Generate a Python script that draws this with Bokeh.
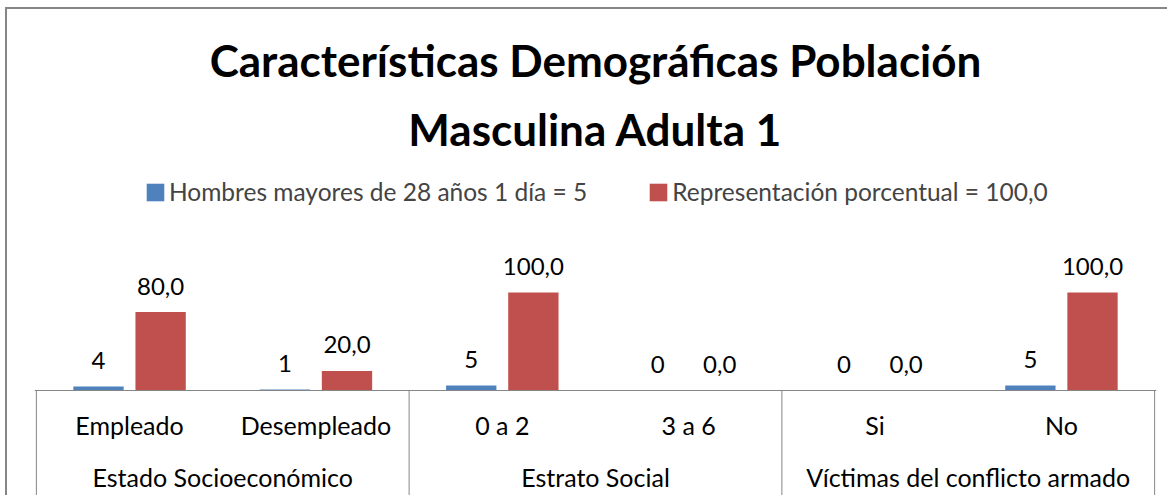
from bokeh.plotting import figure
from bokeh.models import (FactorRange, ColumnDataSource, Legend, LegendItem, Title,
                          Range1d)
from bokeh.transform import dodge
from bokeh.embed import file_html
from bokeh.resources import INLINE
from bokeh.core.properties import value

# ---------------- data ----------------
groups = ["Estado Socioeconómico", "Estado Socioeconómico",
          "Estrato Social", "Estrato Social",
          "Víctimas del conflicto armado", "Víctimas del conflicto armado"]
categories = ["Empleado", "Desempleado", "0 a 2", "3 a 6", "Si", "No"]
hombres = [4, 1, 5, 0, 0, 5]
porcentaje = [80.0, 20.0, 100.0, 0.0, 0.0, 100.0]
series_names = ["Hombres mayores de 28 años 1 día = 5",
                "Representación porcentual = 100,0"]
title_lines = ["Características Demográficas Población", "Masculina Adulta 1"]
colors = ["#4F81BD", "#C0504D"]

FONT = "Lato"
GRAY = "#868686"

factors = list(zip(groups, categories))
src = ColumnDataSource(dict(
    cat=factors,
    hombres=hombres,
    porcentaje=porcentaje,
    lab_h=[str(v) for v in hombres],
    lab_p=[f"{v:.1f}".replace(".", ",") for v in porcentaje],
))

xr = FactorRange(*factors, factor_padding=0, group_padding=0,
                 range_padding=0.01, range_padding_units="absolute")

W, H = 1162, 488
TOP = 150          # frame top (canvas px)
BASE = 381         # baseline (canvas px)
PX_PER_UNIT = 0.98
y_bottom = -(H - BASE) / PX_PER_UNIT
y_top = (BASE - TOP) / PX_PER_UNIT

p = figure(width=W, height=H, x_range=xr, y_range=Range1d(y_bottom, y_top),
           output_backend="svg", toolbar_location=None, title=None,
           min_border_left=27, min_border_right=13, min_border_top=TOP,
           min_border_bottom=0)
p.styles = {"border-left": f"2px solid {GRAY}", "border-top": f"2px solid {GRAY}",
            "margin-left": "5px", "margin-top": "7px"}
p.outline_line_color = None
p.grid.visible = False
p.yaxis.visible = False
p.background_fill_color = "white"
p.border_fill_color = "white"

off = 1 / 6
bw = 0.27
r1 = p.vbar(x=dodge("cat", -off, range=p.x_range), top="hombres", width=bw,
            source=src, fill_color=colors[0], line_color=None)
r2 = p.vbar(x=dodge("cat", off, range=p.x_range), top="porcentaje", width=bw,
            source=src, fill_color=colors[1], line_color=None)

p.text(x=dodge("cat", -off, range=p.x_range), y="hombres", text="lab_h", source=src,
       y_offset=-26, text_align="center", text_baseline="alphabetic",
       text_font=value(FONT), text_font_size="24px", text_color="black")
p.text(x=dodge("cat", off, range=p.x_range), y="porcentaje", text="lab_p", source=src,
       y_offset=-26, text_align="center", text_baseline="alphabetic",
       text_font=value(FONT), text_font_size="24px", text_color="black")

bounds = [0] + [i for i in range(1, len(groups)) if groups[i] != groups[i - 1]] + [len(groups)]
p.segment(x0=bounds, x1=bounds, y0=[0] * len(bounds), y1=[y_bottom] * len(bounds),
          line_color=GRAY, line_width=1)

ax = p.xaxis[0]
ax.fixed_location = 0
ax.axis_line_color = GRAY
ax.major_tick_line_color = None
ax.minor_tick_line_color = None
ax.major_tick_out = 0
ax.major_tick_in = 0
ax.separator_line_color = None
ax.major_label_text_font = FONT
ax.major_label_text_font_size = "25px"
ax.major_label_text_color = "black"
ax.major_label_standoff = 19
ax.group_text_font = FONT
ax.group_text_font_size = "25px"
ax.group_text_color = "black"
ax.group_text_font_style = "normal"

legend = Legend(items=[LegendItem(label=series_names[0], renderers=[r1]),
                       LegendItem(label=series_names[1], renderers=[r2])],
                orientation="horizontal", location=(110, 291),
                glyph_width=22, glyph_height=22, label_standoff=3, spacing=60,
                label_text_font=FONT, label_text_font_size="24.5px",
                border_line_color=None, background_fill_alpha=0, padding=0, margin=0)
p.add_layout(legend)

p.add_layout(Title(text=title_lines[1], align="center", text_font=FONT,
                   padding=(0, 0, 5, 0),
                   text_font_size="44px", text_font_style="bold", text_color="black"), "above")
p.add_layout(Title(text=title_lines[0], align="center", text_font=FONT,
                   text_font_size="44px", text_font_style="bold", text_color="black"), "above")

open("out.html", "w").write(file_html(p, INLINE))
